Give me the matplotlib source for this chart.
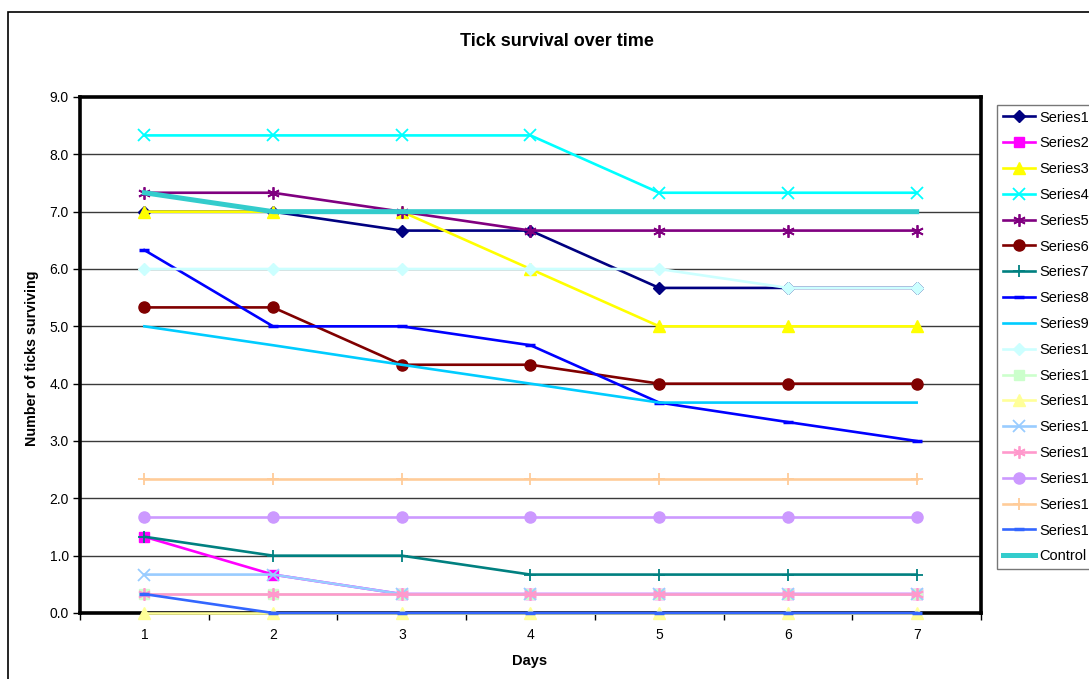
import matplotlib
matplotlib.use("Agg")
import matplotlib.pyplot as plt
from matplotlib.patches import Rectangle
from matplotlib.ticker import FixedLocator

plt.rcParams['font.family'] = ['Liberation Sans', 'DejaVu Sans']

days = [1, 2, 3, 4, 5, 6, 7]
day_labels = ["1", "2", "3", "4", "5", "6", "7"]
y_ticks = [0, 1, 2, 3, 4, 5, 6, 7, 8, 9]

series1 = [7.00, 7.00, 6.67, 6.67, 5.67, 5.67, 5.67]
series2 = [1.33, 0.67, 0.33, 0.33, 0.33, 0.33, 0.33]
series3 = [7.00, 7.00, 7.00, 6.00, 5.00, 5.00, 5.00]
series4 = [8.33, 8.33, 8.33, 8.33, 7.33, 7.33, 7.33]
series5 = [7.33, 7.33, 7.00, 6.67, 6.67, 6.67, 6.67]
series6 = [5.33, 5.33, 4.33, 4.33, 4.00, 4.00, 4.00]
series7 = [1.33, 1.00, 1.00, 0.67, 0.67, 0.67, 0.67]
series8 = [6.33, 5.00, 5.00, 4.67, 3.67, 3.33, 3.00]
series9 = [5.00, 4.67, 4.33, 4.00, 3.67, 3.67, 3.67]
series10 = [6.00, 6.00, 6.00, 6.00, 6.00, 5.67, 5.67]
series11 = [0.33, 0.33, 0.33, 0.33, 0.33, 0.33, 0.33]
series12 = [0.00, 0.00, 0.00, 0.00, 0.00, 0.00, 0.00]
series13 = [0.67, 0.67, 0.33, 0.33, 0.33, 0.33, 0.33]
series14 = [0.33, 0.33, 0.33, 0.33, 0.33, 0.33, 0.33]
series15 = [1.67, 1.67, 1.67, 1.67, 1.67, 1.67, 1.67]
series16 = [2.33, 2.33, 2.33, 2.33, 2.33, 2.33, 2.33]
series17 = [0.33, 0.00, 0.00, 0.00, 0.00, 0.00, 0.00]
control = [7.33, 7.00, 7.00, 7.00, 7.00, 7.00, 7.00]

names = ["Series1", "Series2", "Series3", "Series4", "Series5", "Series6",
         "Series7", "Series8", "Series9", "Series10", "Series11", "Series12",
         "Series13", "Series14", "Series15", "Series16", "Series17", "Control"]
values = [series1, series2, series3, series4, series5, series6, series7,
          series8, series9, series10, series11, series12, series13, series14,
          series15, series16, series17, control]

styles = [
    dict(color="#000080", marker="D", ms=6.5),
    dict(color="#FF00FF", marker="s", ms=7),
    dict(color="#FFFF00", marker="^", ms=8),
    dict(color="#00FFFF", marker="x", ms=8, mew=1.3),
    dict(color="#800080", marker=(6, 2, 0), ms=9, mew=1.3),
    dict(color="#800000", marker="o", ms=8),
    dict(color="#008080", marker="+", ms=9, mew=1.3),
    dict(color="#0000FF", marker="_", ms=7, mew=2.5),
    dict(color="#00CCFF", marker=None),
    dict(color="#CCFFFF", marker="D", ms=6.5),
    dict(color="#CCFFCC", marker="s", ms=7),
    dict(color="#FFFF99", marker="^", ms=8),
    dict(color="#99CCFF", marker="x", ms=8, mew=1.3),
    dict(color="#FF99CC", marker=(6, 2, 0), ms=9, mew=1.3),
    dict(color="#CC99FF", marker="o", ms=8),
    dict(color="#FFCC99", marker="+", ms=9, mew=1.3),
    dict(color="#3366FF", marker="_", ms=7, mew=2.5),
    dict(color="#33CCCC", marker=None, lw=3.6),
]

W, H = 1089, 679
fig = plt.figure(figsize=(W / 100, H / 100), dpi=100)
fig.patch.set_facecolor("white")

# outer chart border (extends past the visible picture)
fig.add_artist(Rectangle((8 / W, -0.2), 2.0, (H - 12) / H + 0.2,
                         transform=fig.transFigure, fill=False,
                         edgecolor="black", lw=1.2))

left, right, top, bottom = 80, 981, 97, 613
ax = fig.add_axes([left / W, 1 - bottom / H, (right - left) / W, (bottom - top) / H])

for name, vals, st in zip(names, values, styles):
    st = dict(st)
    color = st.pop("color")
    marker = st.pop("marker")
    lw = st.pop("lw", 1.9)
    ms = st.pop("ms", 0)
    mew = st.pop("mew", 1.0)
    ax.plot(days, vals, color=color, lw=lw, marker=marker, ms=ms,
            mec=color, mfc=color, mew=mew, label=name, clip_on=False,
            solid_joinstyle="miter")

ax.set_xlim(0.5, 7.5)
ax.set_ylim(0, 9)
ax.set_yticks(y_ticks)
ax.set_yticklabels([f"{v:.1f}" for v in y_ticks], fontsize=10)
ax.set_xticks(days)
ax.set_xticklabels(day_labels, fontsize=10)
ax.xaxis.set_minor_locator(FixedLocator([d + 0.5 for d in [0] + days]))
ax.tick_params(axis="x", which="major", length=0, pad=11)
ax.tick_params(axis="x", which="minor", length=5, width=1, direction="out")
ax.tick_params(axis="y", which="major", length=5, width=1, direction="out", pad=3)
for yv in y_ticks[1:-1]:
    ax.axhline(yv, color="#3a3a3a", lw=1.0, zorder=0.5)
for sp in ax.spines.values():
    sp.set_linewidth(2.6)
    sp.set_color("black")
    sp.set_zorder(0.6)

fig.text(557 / W, 1 - 42 / H, "Tick survival over time", ha="center", va="center",
         fontsize=13, fontweight="bold")
fig.text(32 / W, 1 - 358 / H, "Number of ticks surviving", ha="center", va="center",
         rotation=90, fontsize=10.3, fontweight="bold")
fig.text(530 / W, 1 - 661 / H, "Days", ha="center", va="center",
         fontsize=10.5, fontweight="bold")

handles, labels = ax.get_legend_handles_labels()
leg = fig.legend(handles, labels, loc="upper left",
                 bbox_to_anchor=(996.7 / W, 1 - 104.7 / H),
                 bbox_transform=fig.transFigure, borderaxespad=0,
                 fontsize=10.5, frameon=True, fancybox=False,
                 handlelength=2.2, handletextpad=0.3, labelspacing=0.81,
                 borderpad=0.4, markerscale=1.0, numpoints=1)
leg.get_frame().set_edgecolor("#555555")
leg.get_frame().set_linewidth(1.0)

fig.savefig("out.png", dpi=100)
